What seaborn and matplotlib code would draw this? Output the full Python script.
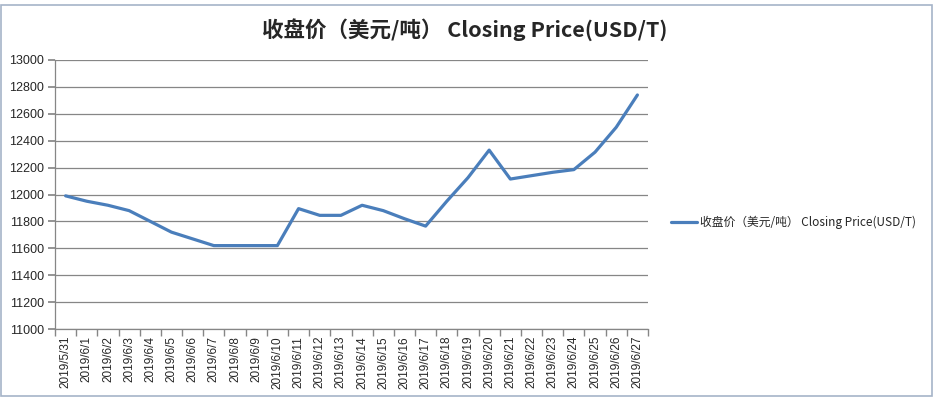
import numpy as np
import pandas as pd
import matplotlib
matplotlib.use("Agg")
import matplotlib.pyplot as plt
from matplotlib.ticker import MultipleLocator, FixedLocator
import seaborn as sns

dates = ["2019/5/31"] + ["2019/6/%d" % d for d in range(1, 28)]
prices = [11990, 11950, 11920, 11880, 11800, 11720, 11670, 11620, 11620, 11620,
          11620, 11895, 11845, 11845, 11920, 11880, 11820, 11765, 11950, 12125,
          12330, 12115, 12140, 12165, 12185, 12315, 12500, 12740]
series_name = "收盘价（美元/吨） Closing Price(USD/T)"

df = pd.DataFrame({"date": dates, "price": prices})

sns.set_theme(style="white")
plt.rcParams["font.family"] = ["Noto Sans CJK SC", "DejaVu Sans"]

fig = plt.figure(figsize=(9.37, 3.97), dpi=100)
ax = fig.add_axes([55 / 937, 1 - 329 / 397, (648 - 55) / 937, (329 - 60) / 397])

sns.lineplot(data=df, x="date", y="price", ax=ax, color="#4A7EBB",
             linewidth=2.3, label=series_name, sort=False)

ax.set_xlim(-0.5, len(dates) - 0.5)
ax.set_ylim(11000, 13000)
ax.yaxis.set_major_locator(MultipleLocator(200))
ax.grid(axis="y", color="#868686", linewidth=0.9)
ax.set_axisbelow(True)

for s in ["top", "right"]:
    ax.spines[s].set_visible(False)
for s in ["left", "bottom"]:
    ax.spines[s].set_color("#868686")
    ax.spines[s].set_linewidth(0.9)

ax.set_xticks(range(len(dates)))
ax.set_xticklabels(dates, rotation=90, fontsize=8.5, family=["Liberation Sans", "DejaVu Sans"])
ax.xaxis.set_minor_locator(FixedLocator(np.arange(-0.5, len(dates), 1.0)))
ax.tick_params(axis="x", which="major", length=0, pad=5)
ax.tick_params(axis="x", which="minor", length=5, color="#868686", bottom=True)
ax.tick_params(axis="y", length=5, color="#868686", left=True, labelsize=9, pad=3)
for lab in ax.get_yticklabels():
    lab.set_family(["Liberation Sans", "DejaVu Sans"])
ax.set_xlabel("")
ax.set_ylabel("")

ax.get_legend().remove()
handles, labels = ax.get_legend_handles_labels()
fig.legend(handles, labels, loc="center left", bbox_to_anchor=(660 / 937, 1 - 222 / 397),
           frameon=False, fontsize=8.5, handlelength=2.2, handletextpad=0.3)

fig.text(0.496, 1 - 30 / 397, "收盘价（美元/吨） Closing Price(USD/T)", ha="center", va="center",
         fontsize=15.5, fontweight="bold")

fig.patches.append(plt.Rectangle((0.001, 0.002), 0.994, 0.985, transform=fig.transFigure,
                                 fill=False, edgecolor="#A5B4C8", linewidth=1.2))

fig.savefig("out.png", dpi=100)
